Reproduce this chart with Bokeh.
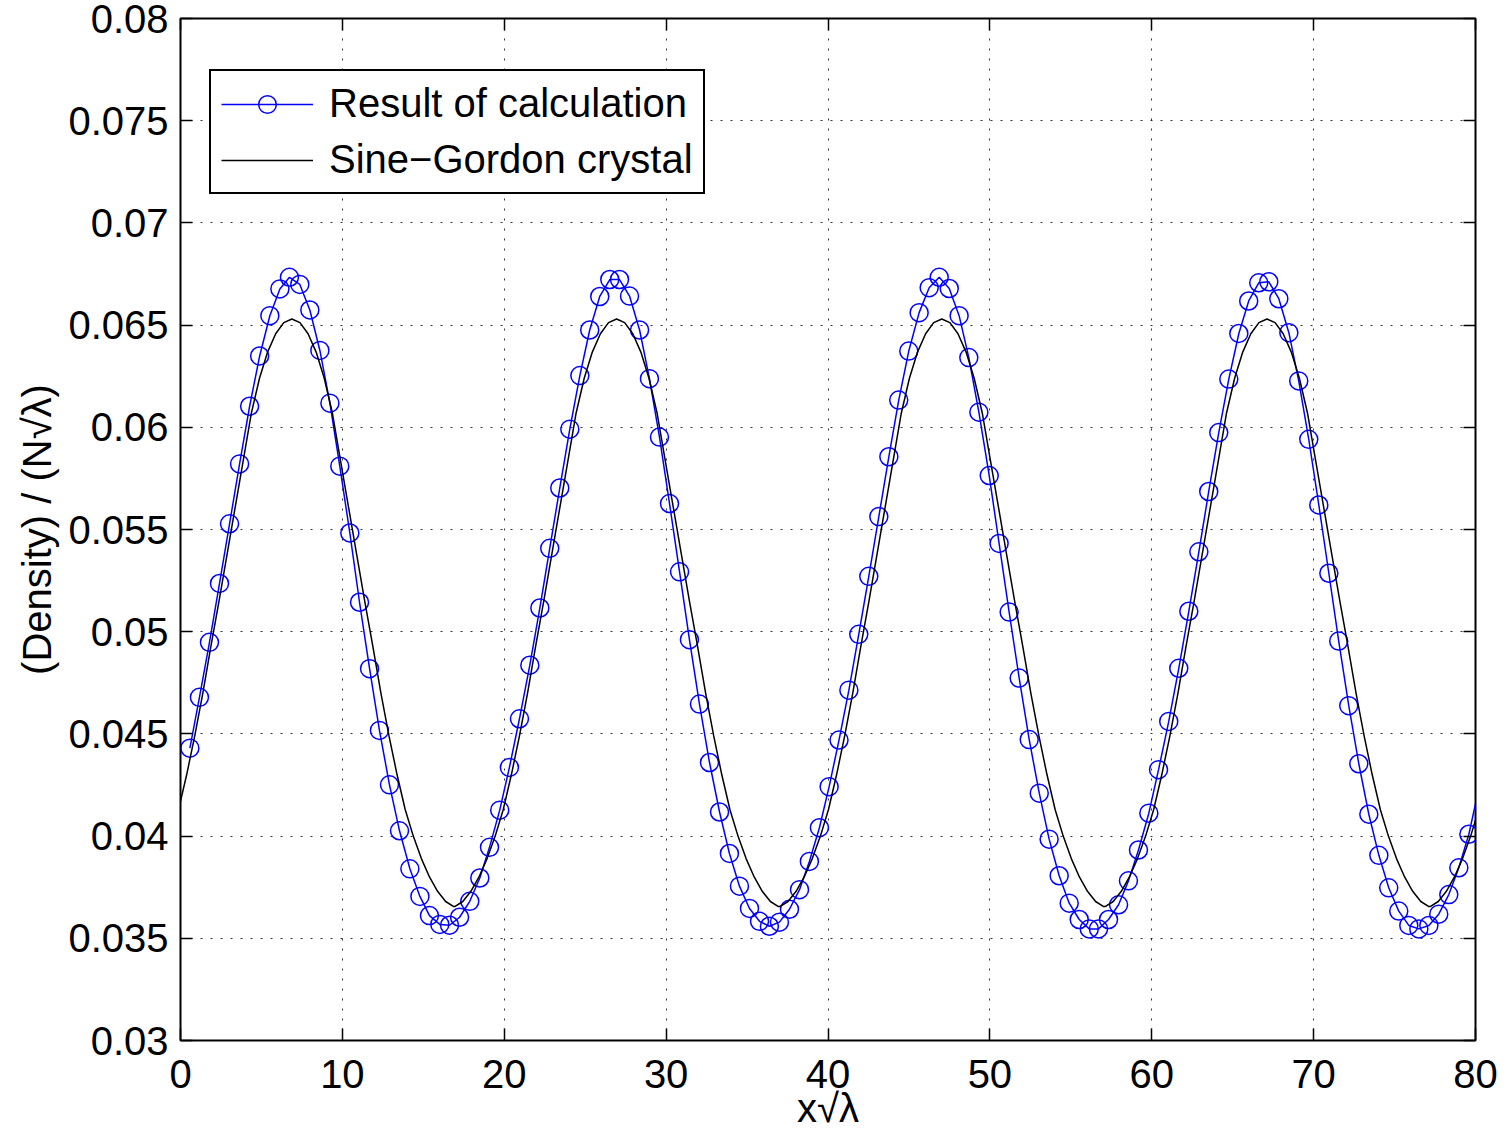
from bokeh.plotting import figure
from bokeh.models import Range1d, FixedTicker, LinearAxis, CustomJSTickFormatter
from bokeh.embed import file_html
from bokeh.resources import INLINE

# ---------------- data ----------------
x_ticks = [0, 10, 20, 30, 40, 50, 60, 70, 80]
y_ticks = [0.03, 0.035, 0.04, 0.045, 0.05, 0.055, 0.06, 0.065, 0.07, 0.075, 0.08]

calc_x = [0.58, 1.17, 1.79, 2.41, 3.03, 3.65, 4.27, 4.89, 5.52, 6.14,
          6.73, 7.37, 7.99, 8.61, 9.23, 9.84, 10.46, 11.06, 11.68, 12.29,
          12.91, 13.53, 14.17, 14.79, 15.38, 16.02, 16.62, 17.24, 17.87, 18.49,
          19.09, 19.72, 20.32, 20.94, 21.58, 22.20, 22.81, 23.43, 24.05, 24.67,
          25.28, 25.90, 26.52, 27.12, 27.74, 28.36, 28.97, 29.59, 30.21, 30.83,
          31.44, 32.06, 32.68, 33.30, 33.91, 34.53, 35.15, 35.77, 36.38, 37.00,
          37.62, 38.24, 38.85, 39.47, 40.07, 40.68, 41.29, 41.90, 42.52, 43.14,
          43.76, 44.37, 44.99, 45.63, 46.25, 46.87, 47.49, 48.10, 48.70, 49.32,
          49.96, 50.57, 51.19, 51.81, 52.43, 53.05, 53.66, 54.28, 54.90, 55.52,
          56.14, 56.71, 57.33, 57.95, 58.56, 59.18, 59.82, 60.42, 61.05, 61.67,
          62.29, 62.91, 63.52, 64.14, 64.76, 65.38, 65.99, 66.61, 67.23, 67.85,
          68.47, 69.08, 69.70, 70.32, 70.94, 71.55, 72.17, 72.79, 73.41, 74.03,
          74.64, 75.26, 75.88, 76.50, 77.12, 77.73, 78.35, 78.97, 79.59]
calc_y = [0.04430, 0.04679, 0.04948, 0.05236, 0.05528, 0.05821, 0.06103, 0.06349, 0.06546, 0.06677,
          0.06734, 0.06699, 0.06574, 0.06376, 0.06118, 0.05810, 0.05483, 0.05144, 0.04819, 0.04517,
          0.04251, 0.04026, 0.03840, 0.03705, 0.03611, 0.03568, 0.03564, 0.03603, 0.03681, 0.03795,
          0.03945, 0.04127, 0.04336, 0.04574, 0.04836, 0.05116, 0.05408, 0.05703, 0.05991, 0.06253,
          0.06476, 0.06640, 0.06723, 0.06723, 0.06642, 0.06476, 0.06238, 0.05952, 0.05627, 0.05293,
          0.04961, 0.04646, 0.04360, 0.04118, 0.03915, 0.03755, 0.03646, 0.03583, 0.03559, 0.03579,
          0.03642, 0.03738, 0.03876, 0.04041, 0.04242, 0.04470, 0.04714, 0.04987, 0.05271, 0.05563,
          0.05856, 0.06133, 0.06373, 0.06561, 0.06683, 0.06734, 0.06679, 0.06546, 0.06341, 0.06074,
          0.05764, 0.05432, 0.05096, 0.04773, 0.04472, 0.04210, 0.03985, 0.03806, 0.03672, 0.03592,
          0.03546, 0.03546, 0.03592, 0.03664, 0.03781, 0.03932, 0.04112, 0.04325, 0.04561, 0.04821,
          0.05100, 0.05391, 0.05686, 0.05974, 0.06236, 0.06459, 0.06618, 0.06707, 0.06712, 0.06629,
          0.06463, 0.06227, 0.05941, 0.05620, 0.05286, 0.04954, 0.04638, 0.04354, 0.04107, 0.03906,
          0.03747, 0.03633, 0.03563, 0.03546, 0.03563, 0.03618, 0.03714, 0.03845, 0.04009]
# next sample beyond the right edge (its marker is outside the axes; only the line reaches the edge)
calc_tail_x = [80.21]
calc_tail_y = [0.04234]

# Sine-Gordon crystal: peak positions and the (symmetric) profile around each peak
sg_peaks = [6.88, 26.94, 47.03, 67.12, 87.20]
sg_offsets = [0.0, 0.5, 1.0, 1.5, 2.0, 2.5, 3.0, 3.5, 4.0, 4.5, 5.0,
              5.5, 6.0, 6.5, 7.0, 7.5, 8.0, 8.5, 9.0, 9.5, 10.0]
sg_profile = [0.06530, 0.06512, 0.06458, 0.06368, 0.06240, 0.06070, 0.05840, 0.05610, 0.05380, 0.05150, 0.04930,
              0.04700, 0.04490, 0.04300, 0.04130, 0.04000, 0.03890, 0.03800, 0.03730, 0.03680, 0.03655]

sg_x, sg_y = [], []
for pk in sg_peaks:
    for o, v in zip(sg_offsets[::-1], sg_profile[::-1]):
        sg_x.append(pk - o)
        sg_y.append(v)
    for o, v in zip(sg_offsets[1:], sg_profile[1:]):
        sg_x.append(pk + o)
        sg_y.append(v)

# ---------------- figure ----------------
FONT = "Liberation Sans"
FS = "40px"

p = figure(frame_width=1295, frame_height=1022,
           x_range=Range1d(0, 80), y_range=Range1d(0.03, 0.08),
           output_backend="svg", toolbar_location=None,
           min_border_left=180, min_border_right=32, min_border_top=18, min_border_bottom=97)
p.background_fill_color = "white"
p.border_fill_color = "white"
p.outline_line_color = "black"
p.outline_line_width = 2

xt = FixedTicker(ticks=x_ticks)
yt = FixedTicker(ticks=y_ticks)

p.xaxis.ticker = xt
p.yaxis.ticker = yt
p.yaxis.formatter = CustomJSTickFormatter(code="return String(Math.round(tick*1000)/1000);")

for ax in (p.xaxis[0], p.yaxis[0]):
    ax.axis_line_color = None
    ax.major_tick_in = 12
    ax.major_tick_out = 0
    ax.major_tick_line_color = "black"
    ax.major_tick_line_width = 1.5
    ax.minor_tick_line_color = None
    ax.major_label_text_font = FONT
    ax.major_label_text_font_size = FS
    ax.major_label_text_color = "black"
    ax.axis_label_text_font = FONT
    ax.axis_label_text_font_size = FS
    ax.axis_label_text_font_style = "normal"
    ax.axis_label_text_color = "black"

p.xaxis.axis_label = "x√λ"
p.yaxis.axis_label = "(Density) / (N√λ)"
p.xaxis.major_label_standoff = 19
p.xaxis.axis_label_standoff = -5
p.yaxis.major_label_standoff = 12
p.yaxis.axis_label_standoff = 6

blank = CustomJSTickFormatter(code="return '';")
right_ax = LinearAxis(ticker=yt, formatter=blank, axis_line_color=None, major_tick_in=12,
                      major_tick_out=0, major_tick_line_color="black", major_tick_line_width=1.5,
                      minor_tick_line_color=None, major_label_standoff=0)
top_ax = LinearAxis(ticker=xt, formatter=blank, axis_line_color=None, major_tick_in=12,
                    major_tick_out=0, major_tick_line_color="black", major_tick_line_width=1.5,
                    minor_tick_line_color=None, major_label_standoff=0)
p.add_layout(right_ax, "right")
p.add_layout(top_ax, "above")

p.xgrid.ticker = xt
p.ygrid.ticker = yt
for g in (p.xgrid[0], p.ygrid[0]):
    g.grid_line_color = "black"
    g.grid_line_alpha = 0.8
    g.grid_line_width = 1
    g.grid_line_dash = "2 8"

# ---------------- glyphs ----------------
p.line(calc_x + calc_tail_x, calc_y + calc_tail_y, line_color="#0000ff", line_width=1.5,
       legend_label="Result of calculation")
p.scatter(calc_x, calc_y, marker="circle", size=18, fill_color=None, line_color="#0000ff",
          line_width=1.5, legend_label="Result of calculation")
p.line(sg_x, sg_y, line_color="black", line_width=1.5, legend_label="Sine−Gordon crystal")

lg = p.legend[0]
lg.location = (29, 846)
lg.margin = 0
lg.padding = 10
lg.spacing = 11
lg.glyph_width = 92
lg.glyph_height = 44
lg.label_height = 44
lg.label_standoff = 16
lg.label_text_font = FONT
lg.label_text_font_size = FS
lg.label_text_color = "black"
lg.border_line_color = "black"
lg.border_line_alpha = 1.0
lg.border_line_width = 2
lg.background_fill_color = "white"
lg.background_fill_alpha = 1.0

open("out.html", "w").write(file_html(p, INLINE))
